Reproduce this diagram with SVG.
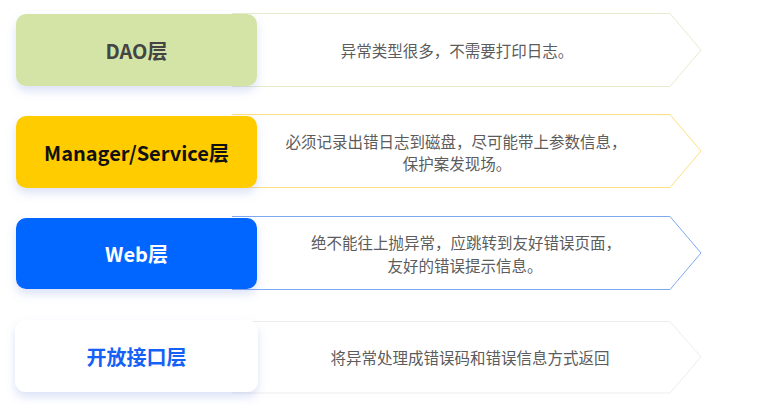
<svg xmlns="http://www.w3.org/2000/svg" width="766" height="405" viewBox="0 0 766 405">
<defs>
<filter id="sh" x="-20%" y="-30%" width="140%" height="180%">
<feDropShadow dx="0" dy="5" stdDeviation="5" flood-color="#5a78d8" flood-opacity="0.22"/>
</filter>
<style>
.out{fill:#ffffff;stroke-width:1}
.title{font-family:"Noto Sans CJK SC","Noto Sans",sans-serif;font-size:20px;font-weight:bold;text-anchor:middle;dominant-baseline:central}
.desc{font-family:"Noto Sans CJK SC","Noto Sans",sans-serif;font-size:15.5px;fill:#5c5c5c;text-anchor:middle;dominant-baseline:central}
</style>
</defs>
<rect width="766" height="405" fill="#ffffff"/>
<g id="connectors"></g>
<g id="row-dao">
<path class="out" stroke="#E6ECCB" d="M232,13.5 H670 L701,50 L670,86.5 H232"/>
<rect x="16" y="14" width="241" height="72" rx="10" fill="#D3E4A6" filter="url(#sh)"/>
<text class="title" x="136.5" y="50" fill="#444444">DAO层</text>
<text class="desc" x="457" y="50">异常类型很多，不需要打印日志。</text>
</g>
<g id="row-manager">
<path class="out" stroke="#FDE07F" d="M232,114.5 H670 L701,151 L670,187.5 H232"/>
<rect x="16" y="116" width="241" height="72" rx="10" fill="#FFCC00" filter="url(#sh)"/>
<text class="title" x="136.5" y="152" fill="#111111">Manager/Service层</text>
<text class="desc" x="456" y="140.5">必须记录出错日志到磁盘，尽可能带上参数信息，</text>
<text class="desc" x="457" y="163">保护案发现场。</text>
</g>
<g id="row-web">
<path class="out" stroke="#7EA9F3" d="M232,216.5 H670 L701,253 L670,289.5 H232"/>
<rect x="16" y="218" width="241" height="71" rx="10" fill="#0066FF" filter="url(#sh)"/>
<text class="title" x="136.5" y="253" fill="#ffffff">Web层</text>
<text class="desc" x="466" y="242">绝不能往上抛异常，应跳转到友好错误页面，</text>
<text class="desc" x="465" y="264.5">友好的错误提示信息。</text>
</g>
<g id="row-open">
<path class="out" stroke="#EDEDED" d="M232,321.5 H670 L701,357 L670,393 H232"/>
<rect x="15" y="320" width="243" height="72" rx="11" fill="#ffffff" filter="url(#sh)"/>
<text class="title" x="136.5" y="356" fill="#1560F5">开放接口层</text>
<text class="desc" x="470" y="357">将异常处理成错误码和错误信息方式返回</text>
</g>
</svg>
